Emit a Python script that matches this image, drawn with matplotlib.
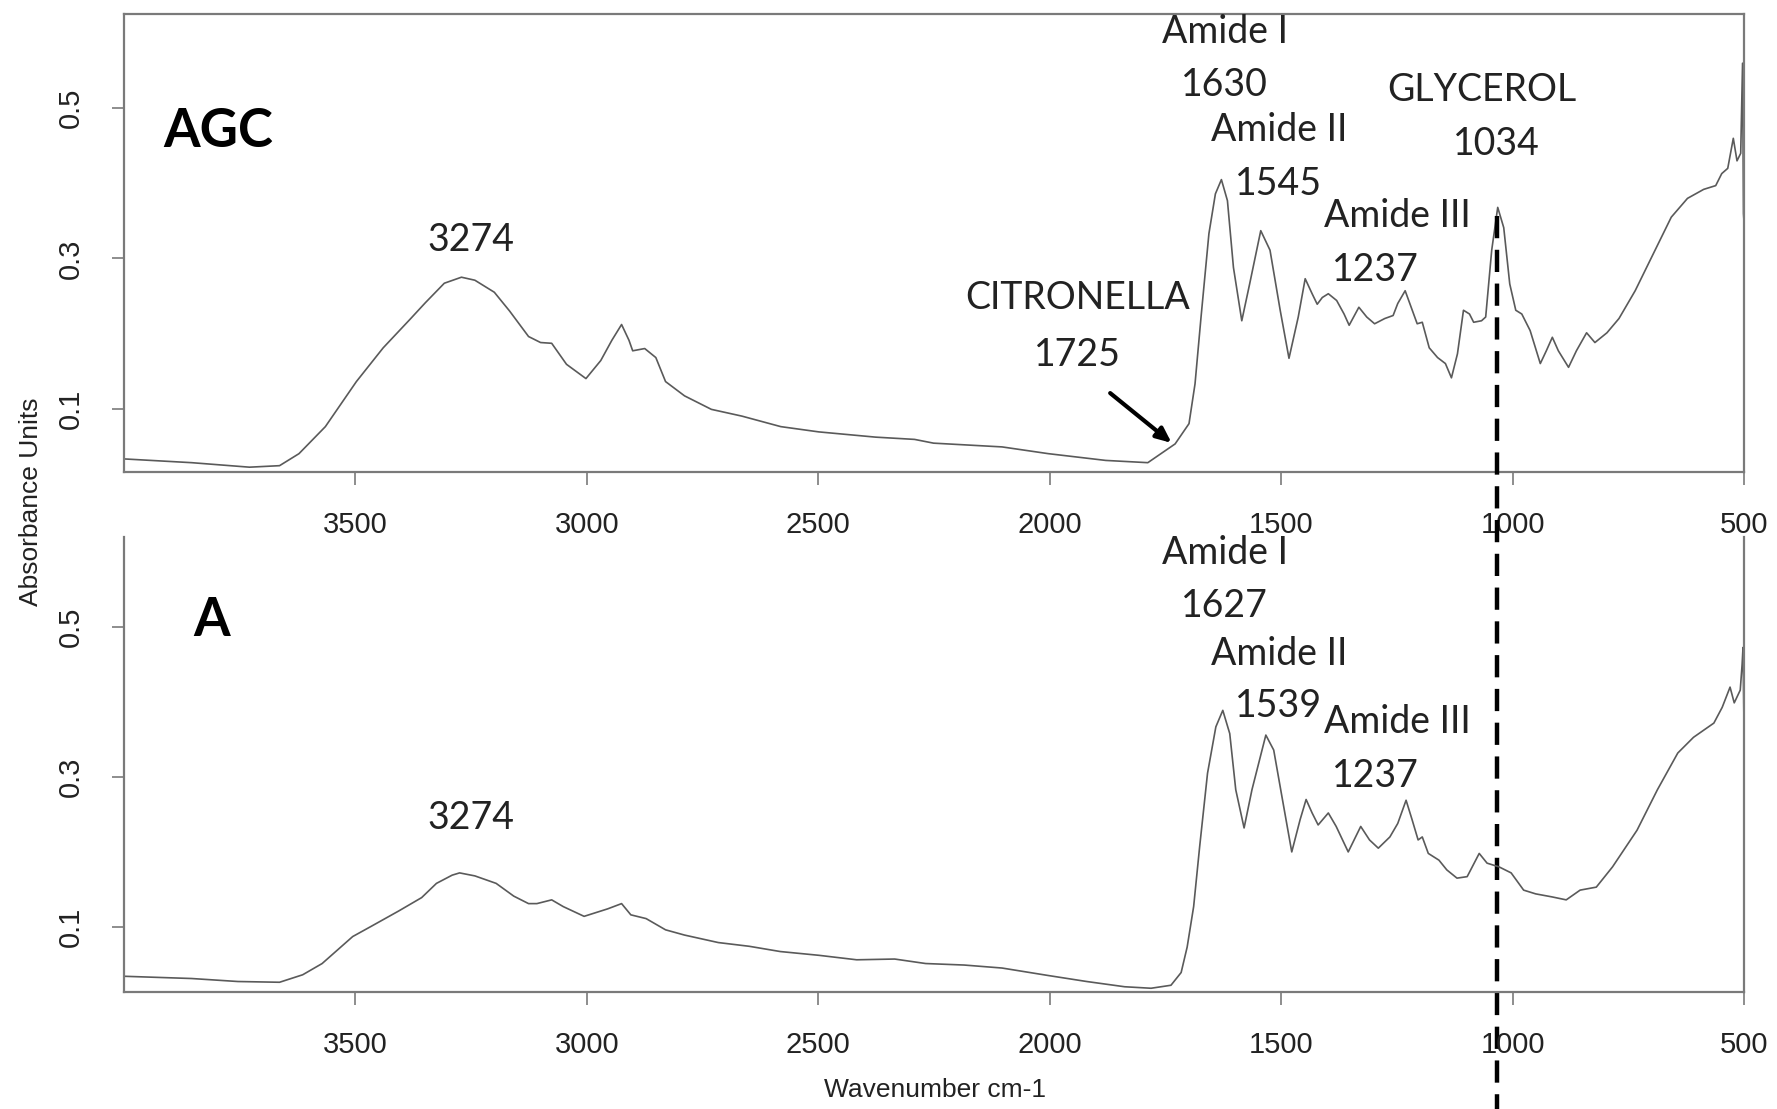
import numpy as np
import matplotlib
matplotlib.use("Agg")
from matplotlib import pyplot as plt
from matplotlib import transforms

# FTIR spectra (wavenumber cm-1, absorbance)
wn_agc = [4000, 3854, 3729, 3664, 3622, 3565, 3498, 3440, 3382, 3349, 3308, 3271, 3242,
          3200, 3167, 3126, 3100, 3076, 3044, 3002, 2970, 2946, 2925, 2909, 2901, 2875,
          2851, 2830, 2789, 2731, 2665, 2581, 2499, 2376, 2292, 2251, 2103, 2003, 1879,
          1788, 1729, 1699, 1686, 1673, 1656, 1642, 1629, 1616, 1603, 1585, 1568, 1544,
          1524, 1502, 1483, 1463, 1448, 1433, 1422, 1411, 1398, 1380, 1364, 1353, 1332,
          1315, 1298, 1276, 1258, 1248, 1232, 1219, 1206, 1195, 1180, 1162, 1145, 1132,
          1119, 1106, 1093, 1084, 1067, 1058, 1045, 1032, 1019, 1006, 993, 980, 962, 940,
          927, 914, 901, 879, 862, 840, 822, 796, 770, 735, 700, 657, 622, 587, 561, 548,
          535, 523, 515, 507, 503, 501, 500]
abs_agc = [0.033, 0.028, 0.022, 0.024, 0.040, 0.076, 0.136, 0.181, 0.219, 0.241, 0.267,
           0.275, 0.271, 0.255, 0.230, 0.196, 0.188, 0.187, 0.159, 0.140, 0.164, 0.191,
           0.212, 0.191, 0.177, 0.180, 0.168, 0.136, 0.117, 0.099, 0.090, 0.076, 0.069,
           0.062, 0.059, 0.054, 0.049, 0.040, 0.031, 0.028, 0.053, 0.080, 0.133, 0.222,
           0.333, 0.386, 0.405, 0.377, 0.288, 0.217, 0.266, 0.337, 0.311, 0.231, 0.167,
           0.222, 0.273, 0.253, 0.239, 0.248, 0.253, 0.244, 0.226, 0.211, 0.235, 0.222,
           0.213, 0.220, 0.224, 0.240, 0.257, 0.235, 0.213, 0.215, 0.181, 0.168, 0.160,
           0.141, 0.173, 0.231, 0.226, 0.215, 0.217, 0.222, 0.311, 0.368, 0.341, 0.266,
           0.231, 0.226, 0.204, 0.160, 0.177, 0.195, 0.177, 0.155, 0.177, 0.201, 0.188,
           0.201, 0.220, 0.257, 0.301, 0.355, 0.380, 0.392, 0.397, 0.413, 0.420, 0.460,
           0.430, 0.440, 0.560, 0.360, 0.350]

wn_a = [4000, 3854, 3754, 3664, 3614, 3572, 3506, 3465, 3407, 3357, 3325, 3291, 3275,
        3242, 3196, 3158, 3126, 3108, 3076, 3051, 3006, 2955, 2925, 2905, 2872, 2830,
        2789, 2716, 2649, 2582, 2499, 2417, 2335, 2268, 2185, 2103, 2003, 1920, 1838,
        1781, 1738, 1716, 1703, 1689, 1676, 1659, 1641, 1626, 1611, 1598, 1580, 1563,
        1533, 1516, 1498, 1477, 1459, 1446, 1433, 1420, 1398, 1381, 1355, 1328, 1309,
        1290, 1265, 1248, 1230, 1217, 1204, 1195, 1182, 1159, 1142, 1120, 1098, 1072,
        1055, 1029, 1003, 976, 950, 915, 884, 854, 819, 784, 731, 687, 643, 609, 565,
        547, 530, 521, 508, 504, 502, 500]
abs_a = [0.034, 0.031, 0.027, 0.026, 0.036, 0.051, 0.087, 0.101, 0.121, 0.139, 0.158,
         0.169, 0.172, 0.168, 0.158, 0.141, 0.131, 0.131, 0.136, 0.127, 0.114, 0.124,
         0.131, 0.116, 0.111, 0.096, 0.089, 0.079, 0.074, 0.067, 0.062, 0.056, 0.057,
         0.051, 0.049, 0.045, 0.035, 0.027, 0.020, 0.018, 0.022, 0.039, 0.073, 0.127,
         0.207, 0.305, 0.367, 0.389, 0.358, 0.283, 0.232, 0.283, 0.356, 0.336, 0.273,
         0.200, 0.243, 0.270, 0.252, 0.236, 0.252, 0.234, 0.200, 0.234, 0.216, 0.205,
         0.220, 0.238, 0.269, 0.243, 0.216, 0.220, 0.198, 0.189, 0.176, 0.165, 0.167,
         0.198, 0.185, 0.180, 0.172, 0.149, 0.144, 0.140, 0.136, 0.149, 0.153, 0.180,
         0.229, 0.283, 0.332, 0.353, 0.372, 0.393, 0.420, 0.399, 0.416, 0.450, 0.473,
         0.375]

x_ticks = [3500, 3000, 2500, 2000, 1500, 1000, 500]
y_ticks = [0.1, 0.3, 0.5]

# peak labels: (text, wavenumber position, absorbance position)
labels_agc = [("3274", 3251, 0.324), ("CITRONELLA", 1939, 0.247), ("1725", 1939, 0.172),
              ("Amide I", 1622, 0.601), ("1630", 1622, 0.531),
              ("Amide II", 1505, 0.471), ("1545", 1505, 0.399),
              ("Amide III", 1248, 0.357), ("1237", 1297, 0.285),
              ("GLYCEROL", 1066, 0.524), ("1034", 1034, 0.453)]
labels_a = [("3274", 3251, 0.245),
            ("Amide I", 1622, 0.599), ("1627", 1622, 0.528),
            ("Amide II", 1505, 0.464), ("1539", 1505, 0.395),
            ("Amide III", 1248, 0.373), ("1237", 1297, 0.301)]
glycerol_wn = 1034

plt.rcParams['font.family'] = ['Liberation Sans', 'DejaVu Sans']
fig = plt.figure(figsize=(17.77, 11.09), dpi=100)
ax1 = fig.add_axes([0.0698, 0.574, 0.9116, 0.413])
ax2 = fig.add_axes([0.0698, 0.1055, 0.9116, 0.410])
ax2.patch.set_visible(False)

spine_col = "#7a7a7a"
ann_font = ['Lato', 'DejaVu Sans']

for ax, wn, ab, ylim in [(ax1, wn_agc, abs_agc, (0.015, 0.625)),
                         (ax2, wn_a, abs_a, (0.013, 0.62))]:
    ax.plot(wn, ab, color="#5a5a5a", lw=1.2, solid_joinstyle="round")
    ax.set_xlim(4000, 500)
    ax.set_ylim(*ylim)
    ax.set_xticks(x_ticks)
    ax.set_xticklabels([str(t) for t in x_ticks])
    ax.set_yticks(y_ticks)
    ax.set_yticklabels([str(t) for t in y_ticks], rotation=90, va="center")
    ax.tick_params(axis="both", length=9, width=1.2, color=spine_col,
                   labelsize=21, pad=19, labelcolor="#222222")
    for s in ax.spines.values():
        s.set_color(spine_col)
        s.set_linewidth(1.6)

ax2.spines["top"].set_visible(False)

ax1.text(0.058, 0.745, "AGC", transform=ax1.transAxes, fontsize=38,
         fontweight="bold", family=ann_font, ha="center", va="center")
ax2.text(0.054, 0.818, "A", transform=ax2.transAxes, fontsize=38,
         fontweight="bold", family=ann_font, ha="center", va="center")

for ax, labels in [(ax1, labels_agc), (ax2, labels_a)]:
    for txt, x, y in labels:
        ax.text(x, y, txt, fontsize=27, family=ann_font, color="#222222",
                ha="center", va="center", clip_on=False)

# arrow to the citronella shoulder
ax1.annotate("", xy=(1732, 0.052), xytext=(1874, 0.123),
             arrowprops=dict(arrowstyle="-|>,head_length=0.9,head_width=0.4",
                             color="black", lw=3))

# dashed glycerol line running through both panels
fig.canvas.draw()
y_top = fig.transFigure.inverted().transform(ax1.transData.transform((glycerol_wn, 0.357)))[1]
trans = transforms.blended_transform_factory(ax1.transData, fig.transFigure)
ax1.plot([glycerol_wn, glycerol_wn], [y_top, 0.0], transform=trans, clip_on=False,
         color="black", lw=3.2, linestyle=(0, (5, 2.6)), zorder=5)

fig.text(0.0175, 0.548, "Absorbance Units", rotation=90, fontsize=19,
         ha="center", va="center", color="#222222")
fig.text(0.526, 0.017, "Wavenumber cm-1", fontsize=19, ha="center", va="center",
         color="#222222")

plt.savefig("out.png", dpi=100)
